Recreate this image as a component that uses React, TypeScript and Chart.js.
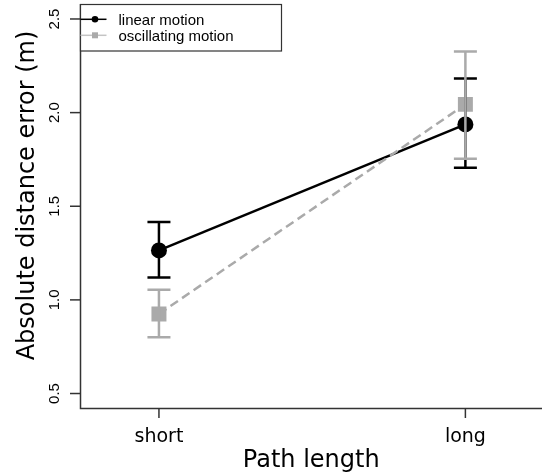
import React, { useEffect, useRef } from 'react';
import Chart from 'chart.js/auto';

// values
const categories = ['short', 'long'];
const linearMean = [1.264, 1.937];
const linearLower = [1.119, 1.705];
const linearUpper = [1.416, 2.182];
const oscMean = [0.925, 2.044];
const oscLower = [0.8, 1.754];
const oscUpper = [1.054, 2.327];
const yTicks = [0.5, 1.0, 1.5, 2.0, 2.5];
const seriesNames = ['linear motion', 'oscillating motion'];

const BLACK = '#000000';
const GRAY = '#aaaaaa';
const AXIS = '#333333';

const App: React.FC = () => {
  const canvasRef = useRef<HTMLCanvasElement>(null);
  const chartRef = useRef<any>(null);

  useEffect(() => {
    document.body.style.margin = '0';
    if (!canvasRef.current) return;

    const series = [
      { mean: linearMean, lower: linearLower, upper: linearUpper, color: BLACK },
      { mean: oscMean, lower: oscLower, upper: oscUpper, color: GRAY },
    ];

    // R-like base graphics: L-shaped frame, rotated y labels, error bars, legend
    const rStylePlugin = {
      id: 'rStyle',
      afterDatasetsDraw: (chart: any) => {
        const { ctx, chartArea } = chart;
        const xs = chart.scales.x;
        const ys = chart.scales.y;
        ctx.save();

        // error bars
        series.forEach(s => {
          ctx.strokeStyle = s.color;
          ctx.lineWidth = 2.5;
          ctx.lineCap = 'butt';
          s.mean.forEach((_, i) => {
            const x = xs.getPixelForValue(i + 1);
            const yLo = ys.getPixelForValue(s.lower[i]);
            const yHi = ys.getPixelForValue(s.upper[i]);
            ctx.beginPath();
            ctx.moveTo(x, yLo);
            ctx.lineTo(x, yHi);
            ctx.moveTo(x - 11.5, yLo);
            ctx.lineTo(x + 11.5, yLo);
            ctx.moveTo(x - 11.5, yHi);
            ctx.lineTo(x + 11.5, yHi);
            ctx.stroke();
          });
        });

        // frame
        ctx.strokeStyle = AXIS;
        ctx.lineWidth = 1.5;
        ctx.beginPath();
        ctx.moveTo(chartArea.left, chartArea.top);
        ctx.lineTo(chartArea.left, chartArea.bottom);
        ctx.lineTo(chartArea.right, chartArea.bottom);
        ctx.stroke();

        // y ticks
        ctx.fillStyle = '#000';
        ctx.font = "15px 'Liberation Sans', Arial, sans-serif";
        ctx.textAlign = 'center';
        ctx.textBaseline = 'alphabetic';
        yTicks.forEach(v => {
          const y = ys.getPixelForValue(v);
          ctx.beginPath();
          ctx.moveTo(chartArea.left - 10.5, y);
          ctx.lineTo(chartArea.left, y);
          ctx.stroke();
          ctx.save();
          ctx.translate(58.5, y);
          ctx.rotate(-Math.PI / 2);
          ctx.fillText(v.toFixed(1), 0, 0);
          ctx.restore();
        });

        // x ticks
        ctx.font = "19px 'DejaVu Sans', sans-serif";
        categories.forEach((c, i) => {
          const x = xs.getPixelForValue(i + 1);
          ctx.beginPath();
          ctx.moveTo(x, chartArea.bottom);
          ctx.lineTo(x, chartArea.bottom + 9.5);
          ctx.stroke();
          ctx.fillText(c, x, 442);
        });

        // axis titles
        ctx.font = "24px 'DejaVu Sans', sans-serif";
        ctx.fillText('Path length', (chartArea.left + chartArea.right) / 2, 467);
        ctx.save();
        ctx.translate(33.5, 195.5);
        ctx.rotate(-Math.PI / 2);
        ctx.fillText('Absolute distance error (m)', 0, 0);
        ctx.restore();

        // legend
        const lx = chartArea.left;
        const ly = 4.5;
        ctx.fillStyle = '#ffffff';
        ctx.fillRect(lx, ly, 201, 46.5);
        ctx.strokeStyle = AXIS;
        ctx.lineWidth = 1.2;
        ctx.strokeRect(lx, ly, 201, 46.5);
        ctx.font = "15px 'Liberation Sans', Arial, sans-serif";
        ctx.textAlign = 'left';
        seriesNames.forEach((name, i) => {
          const rowY = 19.3 + i * 16;
          const color = series[i].color;
          ctx.strokeStyle = i === 0 ? BLACK : '#c4c4c4';
          ctx.lineWidth = 1.5;
          ctx.beginPath();
          ctx.moveTo(lx, rowY);
          ctx.lineTo(lx + 26, rowY);
          ctx.stroke();
          ctx.fillStyle = color;
          if (i === 0) {
            ctx.beginPath();
            ctx.arc(lx + 14.5, rowY, 3.3, 0, Math.PI * 2);
            ctx.fill();
          } else {
            ctx.fillRect(lx + 11.5, rowY - 3, 6, 6);
          }
          ctx.fillStyle = '#000';
          ctx.fillText(name, lx + 38, rowY + 5.4);
        });

        ctx.restore();
      },
    };

    const toPoints = (vals: number[]) => vals.map((v, i) => ({ x: i + 1, y: v }));

    chartRef.current = new Chart(canvasRef.current, {
      type: 'line',
      data: {
        datasets: [
          {
            label: seriesNames[0],
            data: toPoints(linearMean),
            borderColor: BLACK,
            backgroundColor: BLACK,
            borderWidth: 2.5,
            pointStyle: 'circle',
            pointRadius: 8,
            pointBorderWidth: 0,
            order: 2,
          },
          {
            label: seriesNames[1],
            data: toPoints(oscMean),
            borderColor: GRAY,
            backgroundColor: GRAY,
            borderWidth: 2.5,
            borderDash: [9, 5],
            pointStyle: 'rect',
            pointRadius: 10.6,
            pointBorderWidth: 0,
            order: 1,
          },
        ],
      },
      options: {
        responsive: false,
        animation: false,
        layout: { autoPadding: false, padding: { left: 80.5, right: 0, top: 4, bottom: 66.5 } },
        scales: {
          x: { type: 'linear', min: 0.744, max: 2.25, display: false },
          y: { type: 'linear', min: 0.42, max: 2.58, display: false },
        },
        plugins: {
          legend: { display: false },
          tooltip: { enabled: false },
        },
      },
      plugins: [rStylePlugin],
    });

    return () => {
      if (chartRef.current) {
        chartRef.current.destroy();
        chartRef.current = null;
      }
    };
  }, []);

  return (
    <div style={{ width: '542px', height: '475px', background: '#fff' }}>
      <canvas ref={canvasRef} width={542} height={475}></canvas>
    </div>
  );
};

export default App;
